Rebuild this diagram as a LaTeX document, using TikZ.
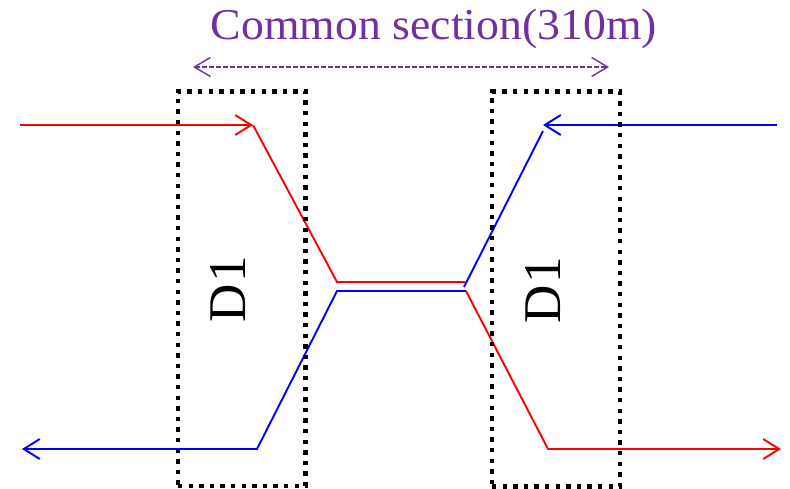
\documentclass[tikz,border=0pt]{standalone}
\usepackage{fontspec}
\setmainfont{Liberation Serif}
\usetikzlibrary{arrows.meta}
\definecolor{mypurple}{RGB}{112,48,160}
\begin{document}
\begin{tikzpicture}[x=1pt,y=-1pt,
  redline/.style={draw=red, line width=1.9pt},
  blueline/.style={draw=blue, line width=1.9pt},
  barb/.style={-{Straight Barb[length=16pt,width=20pt]}},
  dbox/.style={draw=black, line width=4.4pt, dash pattern=on 4.4pt off 6.2pt,
    minimum width=128pt, minimum height=394.7pt, inner sep=0pt, rectangle},
  dlabel/.style={rotate=90, anchor=base, font=\fontsize{53}{60}\selectfont},
  span/.style={draw=mypurple, line width=1.4pt, dash pattern=on 4.5pt off 2.5pt,
    {Straight Barb[length=16pt,width=19pt]}-{Straight Barb[length=16pt,width=19pt]}}
]
\useasboundingbox (0,0) rectangle (790,488);
% title
\node[anchor=base, text=mypurple, font=\fontsize{44}{50}\selectfont, inner sep=0pt] (title) at (434,39) {\scalebox{1.04}[1]{Common section(310m)}};
\coordinate (s0) at (193,67);
\coordinate (s1) at (609,67);
\draw[span] (s0) -- (s1);
% red path
\coordinate (r0) at (20,125);
\coordinate (r1) at (253,125);
\coordinate (r2) at (337,282);
\coordinate (r3) at (465,282);
\coordinate (r4) at (466,291);
\coordinate (r5) at (548,449);
\coordinate (r6) at (781,449);
\draw[redline, barb] (r0) -- (r1);
\draw[redline] (r1) -- (r2) -- (r3);
\draw[redline, barb] (r4) -- (r5) -- (r6);
% blue path
\coordinate (b0) at (777,125);
\coordinate (b1) at (543,125);
\coordinate (b2) at (543,131);
\coordinate (b3) at (464,287);
\coordinate (b4) at (466,291);
\coordinate (b5) at (337,291);
\coordinate (b6) at (257,449);
\coordinate (b7) at (22,449);
\draw[blueline, barb] (b0) -- (b1);
\draw[blueline] (b2) -- (b3);
\draw[blueline, barb] (b4) -- (b5) -- (b6) -- (b7);
% boxes
\node[dbox, minimum width=127.5pt] (boxL) at (241.75,288.7) {};
\node[dbox] (boxR) at (556,289) {};
\node[dlabel] (dL) at (245,289) {D\kern2pt 1};
\node[dlabel] (dR) at (560,290) {D\kern2pt 1};
\end{tikzpicture}
\end{document}
